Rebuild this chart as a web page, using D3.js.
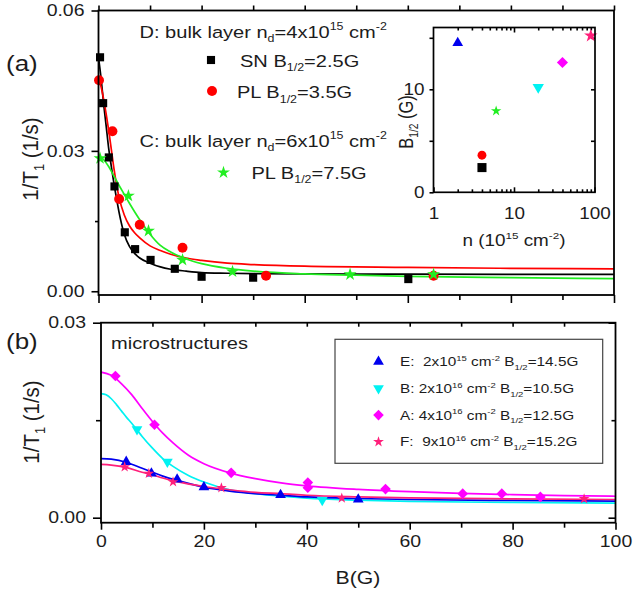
<!DOCTYPE html>
<html><head><meta charset="utf-8">
<script src="https://cdn.jsdelivr.net/npm/d3@7"></script>
<style>
html,body{margin:0;padding:0;background:#fff;}
svg{display:block;}
text{font-family:"Liberation Sans",Arial,Helvetica,sans-serif;white-space:pre;}
</style></head>
<body><svg id="c" width="633" height="591"></svg>
<script>
// ---------------- data ----------------
const xTicks = [0, 20, 40, 60, 80, 100];
const xTickLabels = ["0", "20", "40", "60", "80", "100"];
const yTicksA = [0.00, 0.03, 0.06];
const yTickLabelsA = ["0.00", "0.03", "0.06"];
const yTicksB = [0.00, 0.03];
const yTickLabelsB = ["0.00", "0.03"];
const insetXTicks = [1, 10, 100];
const insetXTickLabels = ["1", "10", "100"];
const insetYTicks = [0, 10];
const insetYTickLabels = ["0", "10"];

// panel (a): measured points [B (G), 1/T1 (1/s)]
const snD = [[0.3,0.0500],[0.9,0.0402],[2.0,0.0286],[3.1,0.0224],[5.1,0.0126],[7.1,0.0090],[10.1,0.0067],[14.8,0.0048],[20.0,0.0031],[30.0,0.0029],[60.1,0.0026]];
const plD = [[0.1,0.0451],[2.7,0.0342],[4.0,0.0197],[8.0,0.0142],[16.3,0.0093],[32.5,0.0033],[65.0,0.0033]];
const plC = [[0.3,0.0284],[5.8,0.0204],[9.7,0.0129],[16.3,0.0067],[26.0,0.0042],[48.8,0.0036],[65.0,0.0036]];
// panel (a): fit curves
const fitSN = [[0,0.0500],[0.5,0.0455],[1,0.0400],[1.5,0.0352],[2,0.0303],[2.5,0.0266],[3,0.0230],[3.5,0.0198],[4,0.0168],[5,0.0122],[6,0.0096],[7,0.0081],[8,0.0071],[10,0.0060],[12,0.0052],[14,0.0047],[17,0.0043],[20,0.0040],[25,0.00385],[30,0.00375],[40,0.0037],[60,0.00365],[100,0.0036]];
const fitPLD = [[0,0.0453],[0.5,0.0437],[1,0.0410],[1.5,0.0378],[2,0.0342],[2.5,0.0302],[3,0.0262],[3.5,0.0228],[4,0.0200],[5,0.0163],[6,0.0140],[7,0.0125],[8,0.0114],[10,0.0097],[12,0.0087],[14,0.0079],[17,0.0071],[20,0.0066],[25,0.0060],[30,0.0057],[40,0.00535],[60,0.0051],[80,0.0049],[100,0.0048]];
const fitPLC = [[0,0.0288],[1,0.0281],[2,0.0266],[3,0.0246],[4,0.0226],[5,0.0207],[6,0.0188],[7,0.0170],[8,0.0153],[10,0.0122],[12,0.0098],[14,0.0084],[17,0.0069],[20,0.0059],[25,0.0049],[30,0.0043],[40,0.0037],[50,0.00345],[60,0.0032],[80,0.0029],[100,0.0027]];

// panel (b): measured points
const ptsE = [[4.9,0.0086],[9.8,0.0068],[14.8,0.0059],[20.0,0.0047],[34.9,0.0035],[50.0,0.0028]];
const ptsB = [[7.0,0.0136],[12.9,0.0086],[43.0,0.0027]];
const ptsA = [[2.8,0.0218],[10.4,0.0143],[25.3,0.0069],[40.2,0.0054],[40.2,0.0046],[55.3,0.0044],[70.3,0.0037],[77.9,0.0037],[85.4,0.0032]];
const ptsF = [[4.6,0.0078],[9.3,0.0068],[14.0,0.0055],[23.4,0.0046],[46.8,0.0030],[93.9,0.0029]];
// panel (b): fit curves
const fitE = [[0,0.0091],[2,0.0090],[5,0.0085],[8,0.0076],[10,0.0070],[12,0.0064],[15,0.0057],[20,0.0047],[25,0.0041],[30,0.0037],[35,0.00345],[40,0.0032],[50,0.00295],[60,0.0028],[80,0.00265],[100,0.00255]];
const fitB = [[0,0.0191],[1,0.0189],[2,0.0183],[3,0.0174],[4,0.0164],[5,0.0154],[6,0.0145],[7,0.0135],[8,0.0125],[10,0.0107],[12,0.0091],[14,0.0079],[17,0.0065],[20,0.0055],[25,0.0043],[30,0.0037],[35,0.0033],[40,0.0030],[50,0.0027],[60,0.0025],[80,0.00235],[100,0.00225]];
const fitA = [[0,0.0224],[2,0.0219],[4,0.0206],[6,0.0189],[8,0.0168],[10,0.0148],[12,0.0130],[14,0.0115],[17,0.0096],[20,0.0083],[25,0.0069],[30,0.0060],[35,0.00535],[40,0.0049],[50,0.00435],[60,0.0040],[70,0.00375],[80,0.00355],[90,0.0034],[100,0.0033]];
const fitF = [[0,0.0082],[2,0.0081],[5,0.0077],[8,0.0070],[10,0.0066],[12,0.0061],[15,0.0055],[20,0.0048],[25,0.0043],[30,0.0039],[35,0.0037],[40,0.00345],[50,0.0032],[60,0.00305],[80,0.0029],[100,0.0028]];

// inset: [n (1e15 cm^-2), B1/2 (G)]
const insetSN = [[4, 2.4]];
const insetPLD = [[4, 3.6]];
const insetC = [[6, 7.9]];
const insetE = [[2, 14.5]];
const insetB = [[20, 10.2]];
const insetA = [[40, 12.6]];
const insetF = [[90, 15.2]];

// ---------------- style ----------------
const SX = 1.18;           // horizontal stretch of the original figure's lettering
const TXT = "#1c1c1c";
const C = {black:"#000000", red:"#ff0000", green:"#22ee22", blue:"#0000ee", cyan:"#00f2f2", magenta:"#ff00ff", pink:"#ff1f7a"};

const svg = d3.select("#c");

function rich(parent, x, y, segs, opt) {
  const size = opt.size, anchor = opt.anchor || "start", rot = opt.rot || 0;
  const sx = opt.sx || SX;
  const tr = rot ? `translate(${x},${y}) rotate(${rot}) scale(1,${sx})` : `translate(${x},${y}) scale(${sx},1)`;
  const t = parent.append("text").attr("transform", tr).attr("font-size", size)
    .attr("text-anchor", anchor).attr("fill", opt.fill || TXT);
  let cur = 0;
  segs.forEach(s => {
    const str = Array.isArray(s) ? s[0] : s;
    const kind = Array.isArray(s) ? s[1] : "n";
    const target = kind === "sub" ? size * 0.28 : kind === "sup" ? -size * 0.42 : 0;
    t.append("tspan").text(str).attr("dy", target - cur)
      .attr("font-size", kind === "n" ? size : size * 0.62);
    cur = target;
  });
  return t;
}

function styleAxis(g, fs) {
  g.select(".domain").remove();
  g.selectAll(".tick line").attr("stroke", "#000").attr("stroke-width", 1.6);
  g.selectAll("text").attr("fill", TXT).attr("font-size", fs || 16);
  return g;
}

function markers(g, data, x, y, type, size, color, rot) {
  g.selectAll(null).data(data).join("path")
    .attr("d", d3.symbol().type(type).size(size)())
    .attr("transform", d => `translate(${x(d[0])},${y(d[1])})` + (rot ? ` rotate(${rot})` : ""))
    .attr("fill", color);
}
function curve(g, data, x, y, color) {
  g.append("path").datum(data)
    .attr("d", d3.line().x(d => x(d[0])).y(d => y(d[1])).curve(d3.curveMonotoneX))
    .attr("fill", "none").attr("stroke", color).attr("stroke-width", 1.7);
}

// ---------------- panel (a) ----------------
const xA = d3.scaleLinear().domain([0, 100]).range([98.5, 614]);
const yA = d3.scaleLinear().domain([-0.0008, 0.06]).range([295, 10.5]);
const gA = svg.append("g");

styleAxis(gA.append("g").attr("transform", `translate(${xA(0)},0)`)
  .call(d3.axisLeft(yA).tickValues(yTicksA).tickSize(7).tickFormat((d, i) => yTickLabelsA[i])), 16.5)
  .selectAll("text").attr("x", -14 / SX).attr("transform", `scale(${SX},1)`);
styleAxis(gA.append("g").attr("transform", `translate(${xA(0)},0)`)
  .call(d3.axisLeft(yA).tickValues([0.015, 0.045]).tickSize(3.5).tickFormat("")));
styleAxis(gA.append("g").attr("transform", `translate(0,295)`)
  .call(d3.axisBottom(xA).tickValues(xTicks).tickSize(8).tickFormat("")));
styleAxis(gA.append("g").attr("transform", `translate(0,295)`)
  .call(d3.axisBottom(xA).tickValues([10, 30, 50, 70, 90]).tickSize(5).tickFormat("")));
styleAxis(gA.append("g").attr("transform", `translate(0,10.5)`)
  .call(d3.axisTop(xA).tickValues(d3.range(0, 101, 10)).tickSize(5).tickFormat("")));

curve(gA, fitSN, xA, yA, C.black);
curve(gA, fitPLD, xA, yA, C.red);
curve(gA, fitPLC, xA, yA, C.green);
markers(gA, plD, xA, yA, d3.symbolCircle, 78, C.red);
markers(gA, snD, xA, yA, d3.symbolSquare, 66, C.black);
markers(gA, plC, xA, yA, d3.symbolStar, 52, C.green);

gA.append("rect").attr("x", 98.5).attr("y", 10.5).attr("width", 614 - 98.5).attr("height", 295 - 10.5)
  .attr("fill", "none").attr("stroke", "#000").attr("stroke-width", 1.8);

rich(gA, 139.5, 37.5, ["D: bulk layer n", ["d", "sub"], "=4x10", ["15", "sup"], " cm", ["-2", "sup"]], {size: 17});
gA.append("path").attr("d", d3.symbol().type(d3.symbolSquare).size(66)()).attr("transform", "translate(211,60)").attr("fill", C.black);
rich(gA, 240, 66.5, ["SN B", ["1/2", "sub"], "=2.5G"], {size: 17});
gA.append("path").attr("d", d3.symbol().type(d3.symbolCircle).size(78)()).attr("transform", "translate(212,91)").attr("fill", C.red);
rich(gA, 237, 98, ["PL B", ["1/2", "sub"], "=3.5G"], {size: 17});
rich(gA, 139.5, 146.5, ["C: bulk layer n", ["d", "sub"], "=6x10", ["15", "sup"], " cm", ["-2", "sup"]], {size: 17});
gA.append("path").attr("d", d3.symbol().type(d3.symbolStar).size(52)()).attr("transform", "translate(223.5,172.5)").attr("fill", C.green);
rich(gA, 251.5, 178.5, ["PL B", ["1/2", "sub"], "=7.5G"], {size: 17});

rich(svg, 6, 71, ["(a)"], {size: 22});
rich(svg, 37.5, 159, ["1/T", ["1", "sub"], " (1/s)"], {size: 20.5, rot: -90, anchor: "middle", sx: 1.1});

// ---------------- inset ----------------
const xI = d3.scaleLog().domain([1, 100]).range([433.5, 594.5]);
const yI = d3.scaleLinear().domain([0, 16]).range([192.3, 27.5]);
const gI = svg.append("g");
gI.append("rect").attr("x", 433.5).attr("y", 27.5).attr("width", 595 - 433.5).attr("height", 192.3 - 27.5).attr("fill", "#fff");
const minorLog = [2,3,4,5,6,7,8,9,20,30,40,50,60,70,80,90];
styleAxis(gI.append("g").attr("transform", `translate(433.5,0)`)
  .call(d3.axisLeft(yI).tickValues(insetYTicks).tickSize(4).tickPadding(5).tickFormat((d, i) => insetYTickLabels[i])))
  .selectAll("text").attr("x", -9 / SX).attr("transform", `scale(${SX},1)`);
styleAxis(gI.append("g").attr("transform", `translate(433.5,0)`)
  .call(d3.axisLeft(yI).tickValues([5, 15]).tickSize(4).tickFormat("")));
styleAxis(gI.append("g").attr("transform", `translate(595,0)`)
  .call(d3.axisRight(yI).tickValues([5, 10, 15]).tickSize(-4).tickFormat("")));
styleAxis(gI.append("g").attr("transform", `translate(0,192.3)`)
  .call(d3.axisBottom(xI).tickValues(insetXTicks).tickSize(-5).tickPadding(15).tickFormat((d, i) => insetXTickLabels[i])))
  .selectAll("text").attr("transform", `scale(${SX},1)`);
styleAxis(gI.append("g").attr("transform", `translate(0,192.3)`)
  .call(d3.axisBottom(xI).tickValues(minorLog).tickSize(-3).tickFormat("")));
styleAxis(gI.append("g").attr("transform", `translate(0,27.5)`)
  .call(d3.axisTop(xI).tickValues([10]).tickSize(-5).tickFormat("")));
styleAxis(gI.append("g").attr("transform", `translate(0,27.5)`)
  .call(d3.axisTop(xI).tickValues(minorLog).tickSize(-3).tickFormat("")));

markers(gI, insetE, xI, yI, d3.symbolTriangle, 50, C.blue);
markers(gI, insetF, xI, yI, d3.symbolStar, 56, C.pink);
markers(gI, insetA, xI, yI, d3.symbolSquare, 62, C.magenta, 45);
markers(gI, insetB, xI, yI, d3.symbolTriangle, 56, C.cyan, 180);
markers(gI, insetC, xI, yI, d3.symbolStar, 34, C.green);
markers(gI, insetPLD, xI, yI, d3.symbolCircle, 62, C.red);
markers(gI, insetSN, xI, yI, d3.symbolSquare, 82, C.black);

gI.append("rect").attr("x", 433.5).attr("y", 27.5).attr("width", 595 - 433.5).attr("height", 192.3 - 27.5)
  .attr("fill", "none").attr("stroke", "#000").attr("stroke-width", 1.7);
rich(gI, 514, 246, ["n (10", ["15", "sup"], " cm", ["-2", "sup"], ")"], {size: 16, anchor: "middle"});
rich(gI, 413, 122, ["B", ["1/2", "sub"], " (G)"], {size: 16.5, rot: -90, anchor: "middle"});

// ---------------- panel (b) ----------------
const xB = d3.scaleLinear().domain([0, 100]).range([101, 615.5]);
const yB = d3.scaleLinear().domain([-0.00077, 0.03]).range([522.7, 322.7]);
const gB = svg.append("g");

styleAxis(gB.append("g").attr("transform", `translate(101,0)`)
  .call(d3.axisLeft(yB).tickValues(yTicksB).tickSize(8).tickFormat((d, i) => yTickLabelsB[i])), 16.5)
  .selectAll("text").attr("x", -15 / SX).attr("transform", `scale(${SX},1)`);
styleAxis(gB.append("g").attr("transform", `translate(101,0)`)
  .call(d3.axisLeft(yB).tickValues([0.015]).tickSize(5).tickFormat("")));
styleAxis(gB.append("g").attr("transform", `translate(615.5,0)`)
  .call(d3.axisRight(yB).tickValues([0, 0.03]).tickSize(-7).tickFormat("")));
styleAxis(gB.append("g").attr("transform", `translate(615.5,0)`)
  .call(d3.axisRight(yB).tickValues([0.015]).tickSize(-4).tickFormat("")));
styleAxis(gB.append("g").attr("transform", `translate(0,322.7)`)
  .call(d3.axisTop(xB).tickValues(d3.range(10, 100, 10)).tickSize(-4).tickFormat("")));
styleAxis(gB.append("g").attr("transform", `translate(0,522.7)`)
  .call(d3.axisBottom(xB).tickValues(xTicks).tickSize(7).tickPadding(6).tickFormat((d, i) => xTickLabels[i])), 16.5)
  .selectAll("text").attr("transform", `scale(${SX},1)`);
styleAxis(gB.append("g").attr("transform", `translate(0,522.7)`)
  .call(d3.axisBottom(xB).tickValues([10, 30, 50, 70, 90]).tickSize(5).tickFormat("")));

curve(gB, fitA, xB, yB, C.magenta);
curve(gB, fitB, xB, yB, C.cyan);
curve(gB, fitE, xB, yB, C.blue);
curve(gB, fitF, xB, yB, C.pink);
markers(gB, ptsA, xB, yB, d3.symbolSquare, 56, C.magenta, 45);
markers(gB, ptsB, xB, yB, d3.symbolTriangle, 50, C.cyan, 180);
markers(gB, ptsE, xB, yB, d3.symbolTriangle, 50, C.blue);
markers(gB, ptsF, xB, yB, d3.symbolStar, 36, C.pink);

gB.append("rect").attr("x", 101).attr("y", 322.7).attr("width", 615.5 - 101).attr("height", 522.7 - 322.7)
  .attr("fill", "none").attr("stroke", "#000").attr("stroke-width", 1.8);

rich(gB, 111, 349, ["microstructures"], {size: 17});

const legend = [
  {segs: ["E:  2x10", ["15", "sup"], " cm", ["-2", "sup"], " B", ["1/2", "sub"], "=14.5G"], type: d3.symbolTriangle, size: 50, color: C.blue, rot: 0},
  {segs: ["B: 2x10", ["16", "sup"], " cm", ["-2", "sup"], " B", ["1/2", "sub"], "=10.5G"], type: d3.symbolTriangle, size: 50, color: C.cyan, rot: 180},
  {segs: ["A: 4x10", ["16", "sup"], " cm", ["-2", "sup"], " B", ["1/2", "sub"], "=12.5G"], type: d3.symbolSquare, size: 56, color: C.magenta, rot: 45},
  {segs: ["F:  9x10", ["16", "sup"], " cm", ["-2", "sup"], " B", ["1/2", "sub"], "=15.2G"], type: d3.symbolStar, size: 36, color: C.pink, rot: 0}
];
gB.append("rect").attr("x", 335).attr("y", 339.3).attr("width", 267.7).attr("height", 124)
  .attr("fill", "#fff").attr("stroke", "#444").attr("stroke-width", 1.2);
legend.forEach((L, i) => {
  const cy = 361.7 + i * 26.7;
  gB.append("path").attr("d", d3.symbol().type(L.type).size(L.size)())
    .attr("transform", `translate(378.5,${cy}) rotate(${L.rot})`).attr("fill", L.color);
  rich(gB, 400, cy + 4.6, L.segs, {size: 13});
});

rich(svg, 6, 349, ["(b)"], {size: 22});
rich(svg, 38.5, 422, ["1/T", ["1", "sub"], " (1/s)"], {size: 20.5, rot: -90, anchor: "middle", sx: 1.1});
rich(svg, 358, 584, ["B(G)"], {size: 18, anchor: "middle"});
</script></body></html>
